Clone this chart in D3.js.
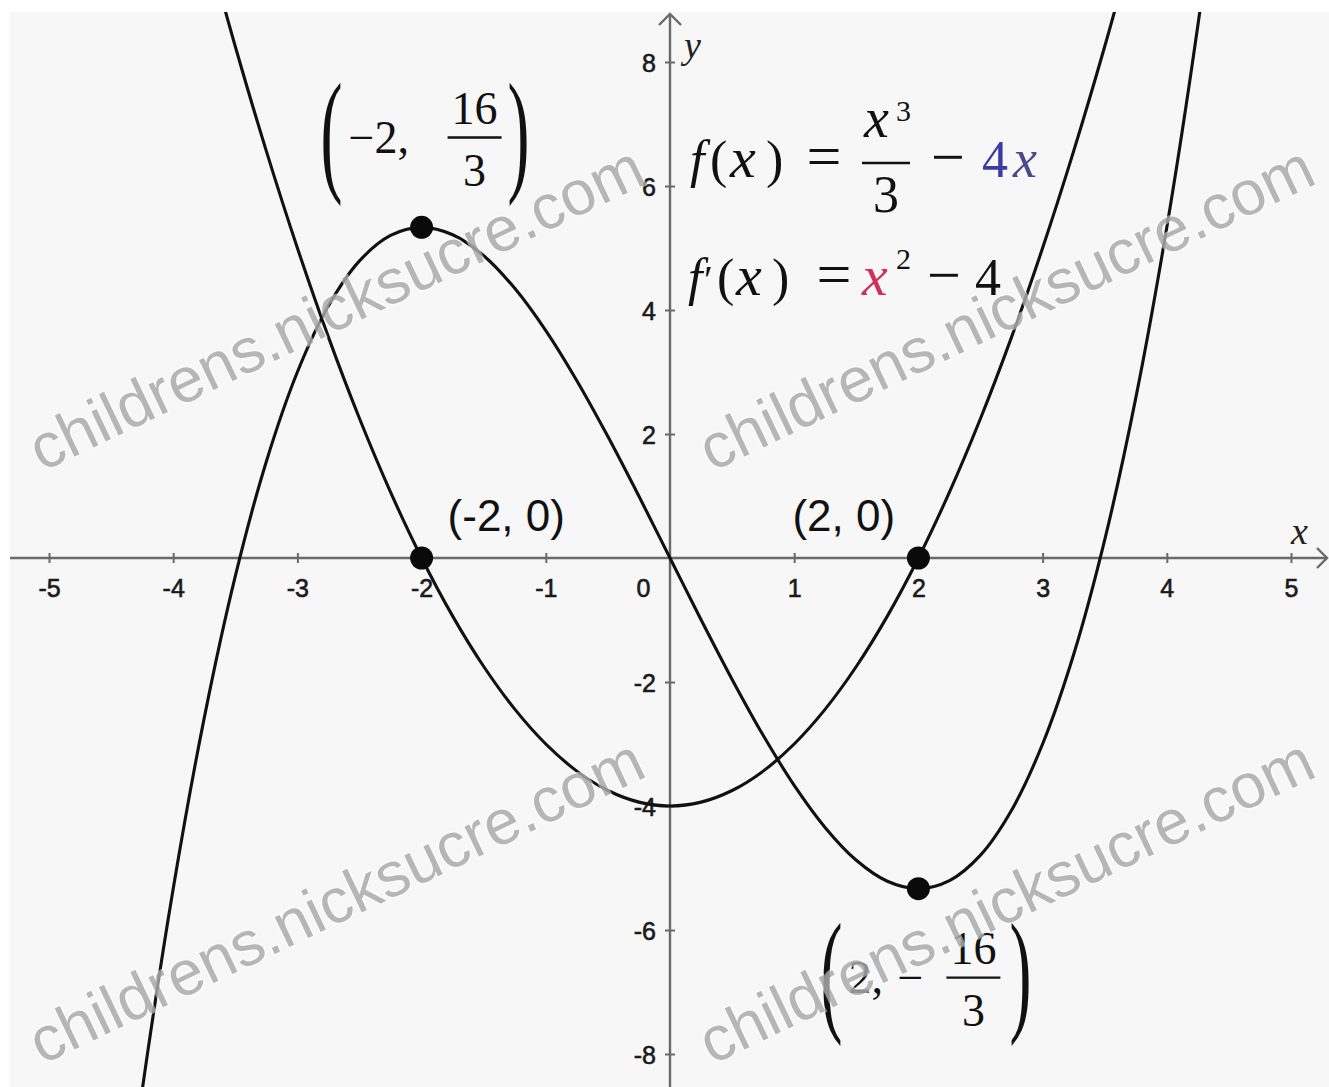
<!DOCTYPE html>
<html><head><meta charset="utf-8">
<script src="https://cdn.jsdelivr.net/npm/d3@7"></script>
<style>
html,body{margin:0;padding:0;background:#fff;}
svg{display:block;}
</style></head><body>
<svg id="chart" width="1329" height="1087"></svg>
<script>
// ---------- data ----------
const xTicks = [-5, -4, -3, -2, -1, 0, 1, 2, 3, 4, 5];
const yTicks = [-8, -6, -4, -2, 2, 4, 6, 8];

// f(x) = x^3/3 - 4x
const fX = [-4.5,-4.25,-4,-3.75,-3.5,-3.25,-3,-2.75,-2.5,-2.25,-2,-1.75,-1.5,-1.25,-1,-0.75,-0.5,-0.25,0,
            0.25,0.5,0.75,1,1.25,1.5,1.75,2,2.25,2.5,2.75,3,3.25,3.5,3.75,4,4.25,4.5];
const fY = [-12.375,-8.589,-5.333,-2.578,-0.292,1.557,3,4.068,4.792,5.203,5.333,5.214,4.875,4.349,3.667,2.859,1.958,0.995,0,
            -0.995,-1.958,-2.859,-3.667,-4.349,-4.875,-5.214,-5.333,-5.203,-4.792,-4.068,-3,-1.557,0.292,2.578,5.333,8.589,12.375];

// f'(x) = x^2 - 4
const dX = [-3.75,-3.5,-3.25,-3,-2.75,-2.5,-2.25,-2,-1.75,-1.5,-1.25,-1,-0.75,-0.5,-0.25,0,
            0.25,0.5,0.75,1,1.25,1.5,1.75,2,2.25,2.5,2.75,3,3.25,3.5,3.75];
const dY = [10.0625,8.25,6.5625,5,3.5625,2.25,1.0625,0,-0.9375,-1.75,-2.4375,-3,-3.4375,-3.75,-3.9375,-4,
            -3.9375,-3.75,-3.4375,-3,-2.4375,-1.75,-0.9375,0,1.0625,2.25,3.5625,5,6.5625,8.25,10.0625];

const pointX = [-2, -2, 2, 2];
const pointY = [5.333, 0, 0, -5.333];

const watermark = "childrens.nicksucre.com";

// ---------- setup ----------
const W = 1329, H = 1087;
const svg = d3.select("#chart");
const x = d3.scaleLinear().domain([-5, 5]).range([49, 1291]);
const y = d3.scaleLinear().domain([-8, 8]).range([1054, 62]);

const plot = {left: 10, top: 12, right: W, bottom: H};

svg.append("rect").attr("x", 0).attr("y", 0).attr("width", W).attr("height", H).attr("fill", "#ffffff");
svg.append("rect").attr("x", plot.left).attr("y", plot.top)
  .attr("width", plot.right - plot.left).attr("height", plot.bottom - plot.top).attr("fill", "#f7f7f7");

const defs = svg.append("defs");
defs.append("clipPath").attr("id", "clip").append("rect")
  .attr("x", plot.left).attr("y", plot.top)
  .attr("width", plot.right - plot.left).attr("height", plot.bottom - plot.top);

const axisColor = "#6a6a6a";
const tickFont = "'Liberation Sans', Arial, sans-serif";
const mathFont = "'Liberation Serif', 'Times New Roman', serif";

// ---------- axes ----------
const gx = svg.append("g").attr("transform", `translate(0,${y(0)})`)
  .call(d3.axisBottom(x).tickValues(xTicks).tickFormat(d => String(d)).tickSizeOuter(0));
gx.select(".domain").remove();
gx.selectAll(".tick line").attr("y1", -5).attr("y2", 5).attr("stroke", axisColor).attr("stroke-width", 2)
  .attr("opacity", d => d === 0 ? 0 : 1);
gx.selectAll(".tick text").attr("y", 21).attr("dy", "0.71em")
  .attr("font-family", tickFont).attr("font-size", 25).attr("fill", "#1a1a1a")
  .attr("stroke", "#1a1a1a").attr("stroke-width", 0.6)
  .attr("dx", d => d === 0 ? -27 : 0);

const gy = svg.append("g").attr("transform", `translate(${x(0)},0)`)
  .call(d3.axisLeft(y).tickValues(yTicks).tickFormat(d => String(d)).tickSizeOuter(0));
gy.select(".domain").remove();
gy.selectAll(".tick line").attr("x1", -5).attr("x2", 5).attr("stroke", axisColor).attr("stroke-width", 2);
gy.selectAll(".tick text").attr("x", -14).attr("dy", "0.36em")
  .attr("font-family", tickFont).attr("font-size", 25).attr("fill", "#1a1a1a")
  .attr("stroke", "#1a1a1a").attr("stroke-width", 0.6);

// axis lines with arrows
svg.append("line").attr("x1", plot.left).attr("x2", W - 2).attr("y1", y(0)).attr("y2", y(0))
  .attr("stroke", axisColor).attr("stroke-width", 2.4);
svg.append("path").attr("d", `M${W-12},${y(0)-10} L${W-2},${y(0)} L${W-12},${y(0)+10}`)
  .attr("fill", "none").attr("stroke", axisColor).attr("stroke-width", 2.4);
svg.append("line").attr("x1", x(0)).attr("x2", x(0)).attr("y1", H).attr("y2", 14)
  .attr("stroke", axisColor).attr("stroke-width", 2.4);
svg.append("path").attr("d", `M${x(0)-11},${25} L${x(0)},${14} L${x(0)+11},${25}`)
  .attr("fill", "none").attr("stroke", axisColor).attr("stroke-width", 2.4);

// axis names
svg.append("text").attr("x", x(0) + 14).attr("y", y(8) - 4).text("y")
  .attr("font-family", mathFont).attr("font-style", "italic").attr("font-size", 38).attr("fill", "#222");
svg.append("text").attr("x", x(5.0)).attr("y", y(0) - 14).text("x")
  .attr("font-family", mathFont).attr("font-style", "italic").attr("font-size", 38).attr("fill", "#222");

// ---------- curves ----------
const curves = svg.append("g").attr("clip-path", "url(#clip)");
const line = d3.line().x(d => x(d[0])).y(d => y(d[1])).curve(d3.curveCatmullRom.alpha(0.5));
curves.append("path").datum(fX.map((v, i) => [v, fY[i]])).attr("d", line)
  .attr("fill", "none").attr("stroke", "#111").attr("stroke-width", 3.1);
curves.append("path").datum(dX.map((v, i) => [v, dY[i]])).attr("d", line)
  .attr("fill", "none").attr("stroke", "#111").attr("stroke-width", 3.1);

// points
svg.append("g").selectAll("circle").data(pointX.map((v, i) => [v, pointY[i]])).join("circle")
  .attr("cx", d => x(d[0])).attr("cy", d => y(d[1])).attr("r", 11.5).attr("fill", "#0a0a0a");

// ---------- point labels ----------
const lab = svg.append("g").attr("font-family", tickFont).attr("font-size", 44).attr("fill", "#111");
lab.append("text").attr("x", x(-2) + 26).attr("y", y(0) - 27).text("(-2, 0)");
lab.append("text").attr("x", x(2) - 126).attr("y", y(0) - 27).text("(2, 0)");

function bigParen(g, cx, cy, ch) {
  g.append("text").attr("transform", `translate(${cx},${cy}) scale(1,2.05)`)
    .attr("text-anchor", "middle").attr("dy", "0.28em")
    .attr("font-family", mathFont).attr("font-size", 66).attr("fill", "#111").text(ch);
}
function frac(g, cx, cy, num, den, w) {
  g.append("line").attr("x1", cx - w / 2).attr("x2", cx + w / 2).attr("y1", cy).attr("y2", cy)
    .attr("stroke", "#111").attr("stroke-width", 2.4);
  g.append("text").attr("x", cx).attr("y", cy - 14).attr("text-anchor", "middle").text(num);
  g.append("text").attr("x", cx).attr("y", cy + 48).attr("text-anchor", "middle").text(den);
}

// top: (-2, 16/3)
const topLab = svg.append("g").attr("font-family", mathFont).attr("font-size", 46).attr("fill", "#111");
{
  const cx = x(-2), cy = y(6.75);
  bigParen(topLab, cx - 90, cy, "(");
  topLab.append("text").attr("x", cx - 73).attr("y", cy + 13).text("\u22122,");
  frac(topLab, cx + 53, cy - 2, "16", "3", 54);
  bigParen(topLab, cx + 97, cy, ")");
}
// bottom: (2, -16/3)
const botLab = svg.append("g").attr("font-family", mathFont).attr("font-size", 46).attr("fill", "#111");
{
  const cx = x(2), cy = y(-6.8);
  bigParen(botLab, cx - 87, cy, "(");
  botLab.append("text").attr("x", cx - 70).attr("y", cy + 13).text("2,");
  botLab.append("text").attr("x", cx - 8).attr("y", cy + 13).attr("text-anchor", "middle").text("\u2212");
  frac(botLab, cx + 55, cy - 2, "16", "3", 54);
  bigParen(botLab, cx + 102, cy, ")");
}

// ---------- equations ----------
const eq = svg.append("g").attr("font-family", mathFont).attr("font-size", 52).attr("fill", "#111");
function t(g, xx, yy, s, opts = {}) {
  const e = g.append("text").attr("x", xx).attr("y", yy).text(s);
  if (opts.italic) e.attr("font-style", "italic");
  if (opts.anchor) e.attr("text-anchor", opts.anchor);
  if (opts.size) e.attr("font-size", opts.size);
  if (opts.fill) e.attr("fill", opts.fill);
  return e;
}
{
  const b = 177, x0 = x(0) + 20;
  t(eq, x0, b, "f", {italic: true});
  t(eq, x0 + 20, b, "(");
  t(eq, x0 + 40, b, "x", {italic: true, size: 58});
  t(eq, x0 + 76, b, ")");
  t(eq, x0 + 134, b, "=", {anchor: "middle", size: 62});
  t(eq, x0 + 174, b - 40, "x", {italic: true, size: 56});
  t(eq, x0 + 206, b - 56, "3", {size: 30});
  eq.append("line").attr("x1", x0 + 172).attr("x2", x0 + 220).attr("y1", b - 14).attr("y2", b - 14)
    .attr("stroke", "#111").attr("stroke-width", 2.4);
  t(eq, x0 + 196, b + 35, "3", {anchor: "middle"});
  t(eq, x0 + 258, b, "\u2212", {anchor: "middle", size: 60});
  t(eq, x0 + 292, b, "4", {fill: "#3b3ba6"});
  t(eq, x0 + 323, b, "x", {italic: true, fill: "#4a4a8a", size: 54});

  const b2 = 295;
  t(eq, x0 - 2, b2, "f", {italic: true});
  t(eq, x0 + 14, b2 - 2, "\u2032", {size: 40});
  t(eq, x0 + 27, b2, "(");
  t(eq, x0 + 46, b2, "x", {italic: true, size: 58});
  t(eq, x0 + 82, b2, ")");
  t(eq, x0 + 144, b2, "=", {anchor: "middle", size: 62});
  t(eq, x0 + 172, b2, "x", {italic: true, fill: "#d0305a", size: 58});
  t(eq, x0 + 206, b2 - 26, "2", {size: 30});
  t(eq, x0 + 254, b2, "\u2212", {anchor: "middle", size: 60});
  t(eq, x0 + 285, b2, "4");
}

// ---------- watermark ----------
const wm = svg.append("g").attr("font-family", tickFont).attr("font-size", 63)
  .attr("fill", "#aaaaaa").attr("opacity", 0.85)
  .attr("stroke", "#ffffff").attr("stroke-width", 3).attr("stroke-opacity", 0.6)
  .style("paint-order", "stroke");
[[42, 472], [712, 472], [42, 1065], [712, 1065]].forEach(([px, py]) => {
  wm.append("text").attr("transform", `translate(${px},${py}) rotate(-25.5)`).text(watermark);
});
</script>
</body></html>
